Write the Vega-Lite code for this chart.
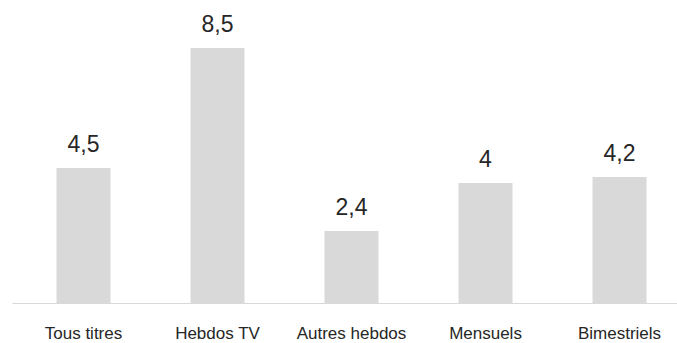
{
  "$schema": "https://vega.github.io/schema/vega-lite/v6.json",
  "width": 679,
  "height": 300,
  "autosize": {"type": "none"},
  "padding": {"left": 12, "top": 3, "right": 0, "bottom": 40},
  "background": "white",
  "config": {"view": {"stroke": null}, "font": "Liberation Sans"},
  "data": {
    "values": [
      {"categorie": "Tous titres", "valeur": 4.5, "label": "4,5"},
      {"categorie": "Hebdos TV", "valeur": 8.5, "label": "8,5"},
      {"categorie": "Autres hebdos", "valeur": 2.4, "label": "2,4"},
      {"categorie": "Mensuels", "valeur": 4.0, "label": "4"},
      {"categorie": "Bimestriels", "valeur": 4.2, "label": "4,2"}
    ]
  },
  "encoding": {
    "x": {
      "field": "categorie",
      "type": "nominal",
      "sort": null,
      "scale": {"paddingInner": 0.597, "paddingOuter": 0.332},
      "axis": {
        "title": null,
        "labelAngle": 0,
        "labelFont": "Liberation Sans",
        "labelFontSize": 17,
        "labelColor": "#262626",
        "labelPadding": 22,
        "domainColor": "#d9d9d9",
        "domainWidth": 1,
        "ticks": false
      }
    },
    "y": {
      "field": "valeur",
      "type": "quantitative",
      "scale": {"domain": [0, 10]},
      "axis": null
    }
  },
  "layer": [
    {"mark": {"type": "bar", "color": "#d9d9d9"}},
    {
      "mark": {"type": "text", "baseline": "alphabetic", "dy": -16, "fontSize": 23, "font": "Liberation Sans", "color": "#262626"},
      "encoding": {"text": {"field": "label"}}
    }
  ]
}
